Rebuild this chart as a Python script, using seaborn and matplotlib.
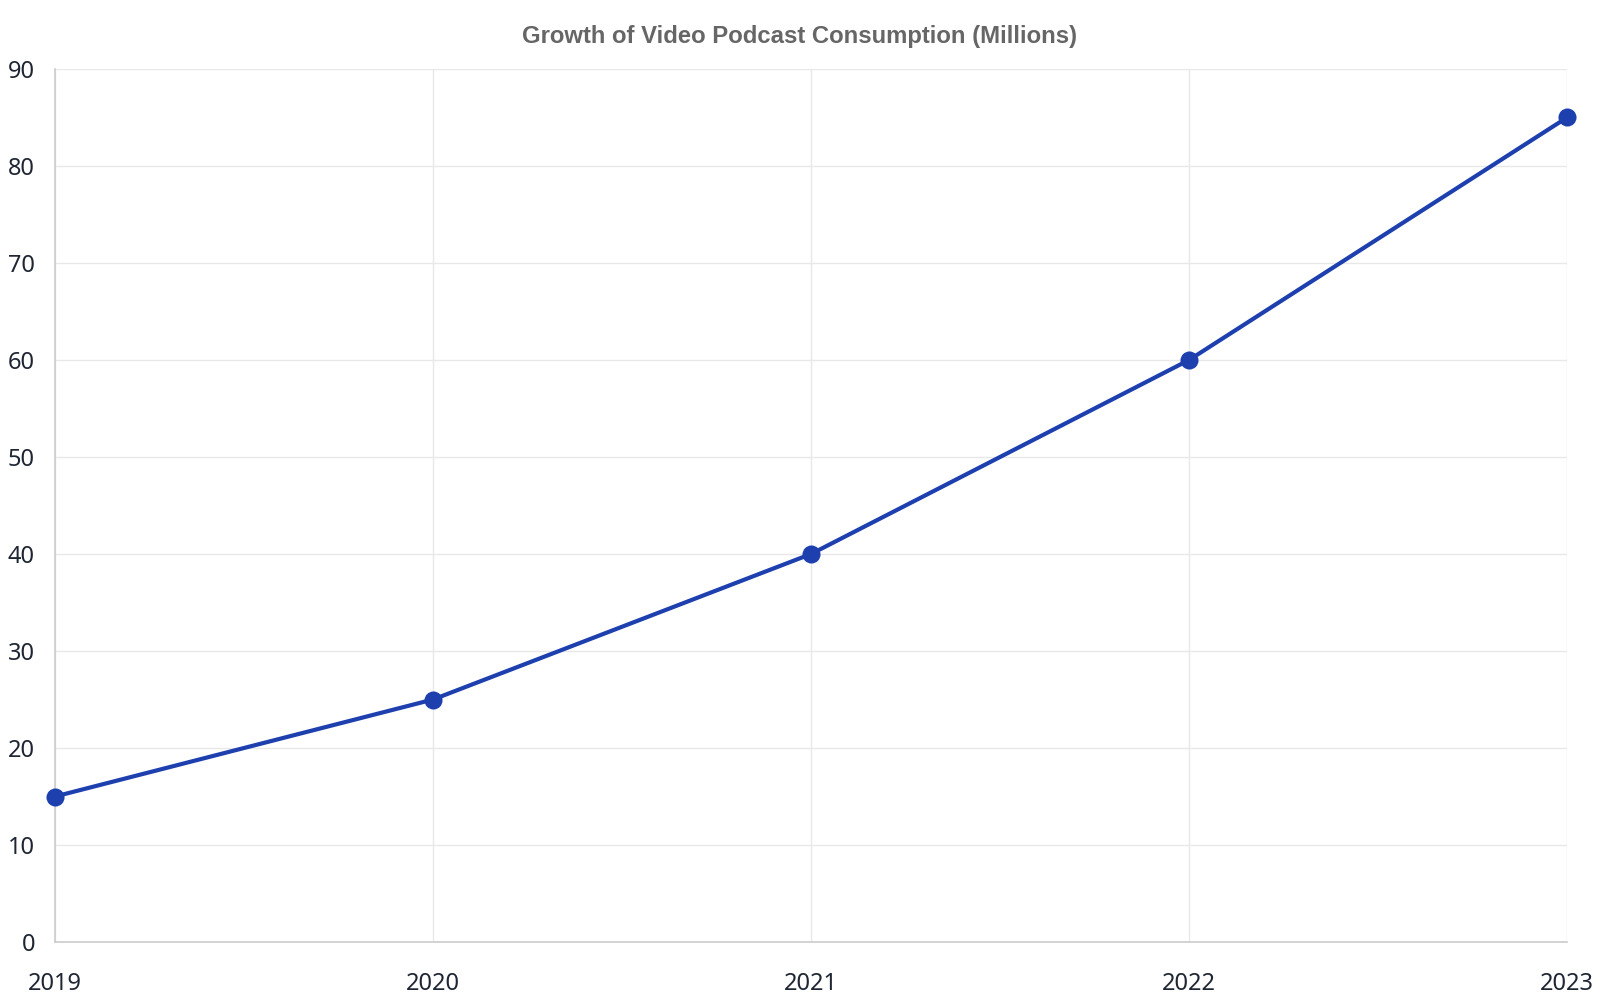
import matplotlib
matplotlib.use("Agg")
import matplotlib.pyplot as plt
import seaborn as sns
import pandas as pd

years = ["2019", "2020", "2021", "2022", "2023"]
consumption = [15, 25, 40, 60, 85]
y_ticks = [0, 10, 20, 30, 40, 50, 60, 70, 80, 90]

df = pd.DataFrame({"year": range(len(years)), "value": consumption})

sns.set_theme(style="white")
plt.rcParams["font.family"] = ["Noto Sans", "DejaVu Sans"]

line_color = "#1e40af"
grid_color = "#e8e8e8"
axis_color = "#cccccc"
text_color = "#1f2633"

fig = plt.figure(figsize=(16, 10), dpi=100)
ax = fig.add_axes([0.0344, 0.058, 0.9450, 0.873])

sns.lineplot(data=df, x="year", y="value", ax=ax, color=line_color,
             linewidth=3, marker="o", markersize=13, markeredgewidth=0,
             zorder=3, clip_on=False)

ax.set_xlim(0, len(years) - 1)
ax.set_ylim(0, 90)
ax.set_xticks(range(len(years)))
ax.set_xticklabels(years)
ax.set_yticks(y_ticks)
ax.set_xlabel("")
ax.set_ylabel("")

ax.grid(True, color=grid_color, linewidth=1)
ax.set_axisbelow(True)
for side in ["top", "right"]:
    ax.spines[side].set_visible(False)
for side in ["left", "bottom"]:
    ax.spines[side].set_color(axis_color)
    ax.spines[side].set_linewidth(1.2)

ax.tick_params(axis="both", colors=grid_color, labelcolor=text_color,
               labelsize=17, width=1)
ax.tick_params(axis="y", pad=3.5, length=11)
ax.tick_params(axis="x", pad=10, length=11.5)

fig.text(0.5, 0.964, "Growth of Video Podcast Consumption (Millions)",
         ha="center", va="center", fontsize=17.2, fontweight="bold",
         color="#666666", family=["Liberation Sans", "DejaVu Sans"])

fig.savefig("out.png", dpi=100, facecolor="white")
